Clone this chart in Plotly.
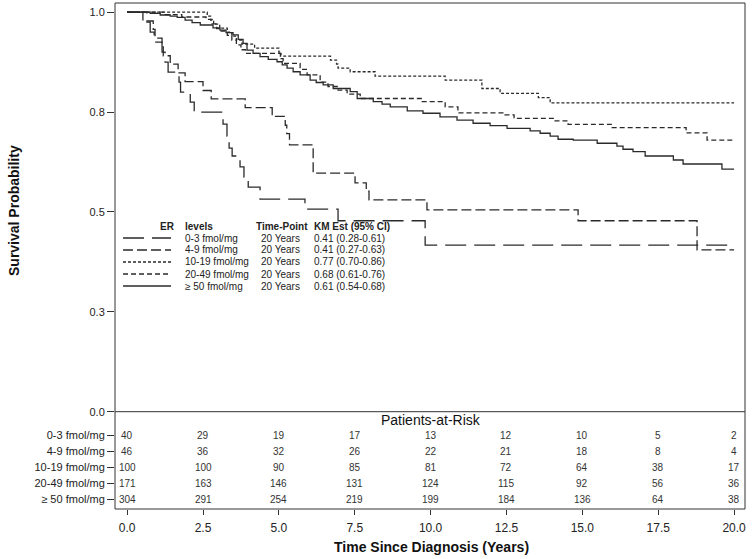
import plotly.graph_objects as go

# ---------------- data ----------------
groups = ["0-3 fmol/mg", "4-9 fmol/mg", "10-19 fmol/mg", "20-49 fmol/mg", "≥ 50 fmol/mg"]

t_0_3 = [0, 0.65, 0.76, 0.89, 1.15, 1.25, 1.35, 1.71, 1.76, 2.08, 2.21, 3.16, 3.29, 3.36, 3.46, 3.72,
         3.85, 3.99, 4.38, 5.86, 6.95, 9.82, 20.0]
s_0_3 = [1.0, 0.975, 0.95, 0.925, 0.90, 0.875, 0.85, 0.825, 0.80, 0.775, 0.75, 0.72, 0.69, 0.66, 0.64,
         0.613, 0.587, 0.562, 0.532, 0.507, 0.478, 0.417, 0.417]

t_4_9 = [0, 0.52, 0.86, 0.92, 1.15, 1.19, 1.42, 1.68, 1.91, 2.50, 2.77, 3.89, 4.78, 5.21, 5.26, 5.35,
         6.13, 7.51, 7.88, 7.97, 9.88, 14.86, 18.78, 20.0]
s_4_9 = [1.0, 0.978, 0.957, 0.935, 0.913, 0.891, 0.870, 0.848, 0.826, 0.804, 0.783, 0.761, 0.739, 0.717,
         0.696, 0.668, 0.597, 0.573, 0.552, 0.530, 0.505, 0.478, 0.405, 0.405]

t_10_19 = [0, 2.64, 2.75, 2.85, 3.05, 3.30, 3.45, 3.60, 3.78, 4.20, 5.00, 5.05, 6.70, 6.90, 6.95, 7.35,
           8.17, 10.48, 11.69, 12.29, 13.55, 13.94, 20.0]
s_10_19 = [1.0, 0.99, 0.98, 0.97, 0.96, 0.95, 0.94, 0.93, 0.92, 0.91, 0.90, 0.89, 0.88, 0.87, 0.86,
           0.851, 0.840, 0.830, 0.809, 0.797, 0.786, 0.773, 0.773]

t_20_49 = [0, 1.2, 1.8, 2.6, 2.8, 2.95, 3.1, 3.3, 3.45, 3.6, 3.75, 3.9, 5.07, 5.14, 5.70, 5.93, 6.36,
           6.62, 6.95, 7.25, 7.68, 9.69, 10.48, 10.9, 12.45, 12.75, 14.07, 14.53, 15.98, 18.42, 19.11, 20.0]
s_20_49 = [1.0, 0.994, 0.988, 0.982, 0.971, 0.959, 0.953, 0.942, 0.930, 0.918, 0.906, 0.897, 0.884,
           0.872, 0.857, 0.843, 0.825, 0.814, 0.805, 0.795, 0.784, 0.776, 0.763, 0.748, 0.743, 0.734,
           0.728, 0.719, 0.711, 0.698, 0.680, 0.680]

t_50 = [0, 0.76, 1.09, 1.42, 1.65, 1.91, 2.14, 2.41, 2.83, 3.06, 3.26, 3.49, 3.66, 3.82, 3.95, 4.15,
        4.38, 4.65, 4.94, 5.11, 5.27, 5.47, 5.70, 6.03, 6.23, 6.46, 6.79, 7.35, 7.58, 8.11, 8.40, 8.67,
        9.23, 9.75, 10.31, 10.87, 11.40, 11.96, 12.52, 13.28, 13.61, 13.94, 14.20, 14.70, 15.49, 16.14,
        16.34, 16.67, 17.07, 18.00, 18.32, 19.60, 20.0]
s_50 = [1.0, 0.997, 0.993, 0.990, 0.987, 0.980, 0.974, 0.968, 0.961, 0.955, 0.949, 0.943, 0.932, 0.922,
        0.905, 0.897, 0.889, 0.882, 0.876, 0.868, 0.860, 0.851, 0.843, 0.830, 0.824, 0.818, 0.809, 0.801,
        0.784, 0.776, 0.770, 0.763, 0.753, 0.747, 0.738, 0.730, 0.722, 0.716, 0.709, 0.703, 0.697, 0.690,
        0.682, 0.680, 0.672, 0.665, 0.657, 0.651, 0.640, 0.630, 0.620, 0.607, 0.607]

risk_times = [0, 2.5, 5.0, 7.5, 10.0, 12.5, 15.0, 17.5, 20.0]
risk_0_3 = [40, 29, 19, 17, 13, 12, 10, 5, 2]
risk_4_9 = [46, 36, 32, 26, 22, 21, 18, 8, 4]
risk_10_19 = [100, 100, 90, 85, 81, 72, 64, 38, 17]
risk_20_49 = [171, 163, 146, 131, 124, 115, 92, 56, 36]
risk_50 = [304, 291, 254, 219, 199, 184, 136, 64, 38]

time_point = "20 Years"
km_est = ["0.41 (0.28-0.61)", "0.41 (0.27-0.63)", "0.77 (0.70-0.86)", "0.68 (0.61-0.76)", "0.61 (0.54-0.68)"]

x_tickvals = [0, 2.5, 5.0, 7.5, 10.0, 12.5, 15.0, 17.5, 20.0]
x_ticktext = ["0.0", "2.5", "5.0", "7.5", "10.0", "12.5", "15.0", "17.5", "20.0"]
y_tickvals = [0, 0.25, 0.5, 0.75, 1.0]
y_ticktext = ["0.0", "0.3", "0.5", "0.8", "1.0"]

# ---------------- styling / layout geometry ----------------
W, H = 752, 559
ML, MR, MT, MB = 115, 7, 3, 50
PW, PH = W - ML - MR, H - MT - MB
FONT = "Liberation Sans, Arial, sans-serif"
LINE_COL = "#2a2a2a"
dashes = ["21px,8px", "10px,4px", "3px,2px", "5px,3px", "solid"]


def px2x(px):
    return (px - ML) / PW


def py2y(py):
    return (H - MB - py) / PH


split = py2y(411.7)

km_t = [t_0_3, t_4_9, t_10_19, t_20_49, t_50]
km_s = [s_0_3, s_4_9, s_10_19, s_20_49, s_50]
risks = [risk_0_3, risk_4_9, risk_10_19, risk_20_49, risk_50]

fig = go.Figure()
for g, tt, ss, d in zip(groups, km_t, km_s, dashes):
    fig.add_trace(go.Scatter(x=tt, y=ss, mode="lines", line_shape="hv", name=g,
                             line=dict(color=LINE_COL, width=1.3, dash=d),
                             xaxis="x", yaxis="y", showlegend=False, hoverinfo="skip"))

annotations = []
# risk table numbers
for i, r in enumerate(risks):
    for t, n in zip(risk_times, r):
        annotations.append(dict(x=t, y=i + 1, xref="x", yref="y2", text=str(n), showarrow=False,
                                font=dict(family=FONT, size=10, color="#333"), xanchor="center",
                                yanchor="middle"))
annotations.append(dict(x=10.0, y=0.0625, xref="x", yref="y2", text="Patients-at-Risk", showarrow=False,
                        font=dict(family=FONT, size=14, color="#111"), xanchor="center", yanchor="middle"))

# titles
annotations.append(dict(x=px2x(431), y=py2y(547), xref="paper", yref="paper",
                        text="<b>Time Since Diagnosis (Years)</b>", showarrow=False,
                        font=dict(family=FONT, size=14, color="#111"), xanchor="center", yanchor="middle"))
annotations.append(dict(x=px2x(14), y=py2y(210), xref="paper", yref="paper",
                        text="<b>Survival Probability</b>", showarrow=False, textangle=-90,
                        font=dict(family=FONT, size=14, color="#111"), xanchor="center", yanchor="middle"))

# inset legend table
hdr_y = 226
row_y = [238, 250, 262, 274, 286]
lf = dict(family=FONT, size=10, color="#222")
annotations.append(dict(x=px2x(177), y=py2y(hdr_y), xref="paper", yref="paper", text="<b>ER</b>",
                        showarrow=False, font=lf, xanchor="right", yanchor="middle"))
annotations.append(dict(x=px2x(183), y=py2y(hdr_y), xref="paper", yref="paper", text="<b>levels</b>",
                        showarrow=False, font=lf, xanchor="left", yanchor="middle"))
annotations.append(dict(x=px2x(254), y=py2y(hdr_y), xref="paper", yref="paper", text="<b>Time-Point</b>",
                        showarrow=False, font=lf, xanchor="left", yanchor="middle"))
annotations.append(dict(x=px2x(312), y=py2y(hdr_y), xref="paper", yref="paper", text="<b>KM Est (95% CI)</b>",
                        showarrow=False, font=lf, xanchor="left", yanchor="middle"))
shapes = []
for g, est, ry, d in zip(groups, km_est, row_y, dashes):
    annotations.append(dict(x=px2x(183), y=py2y(ry), xref="paper", yref="paper", text=g,
                            showarrow=False, font=lf, xanchor="left", yanchor="middle"))
    annotations.append(dict(x=px2x(259), y=py2y(ry), xref="paper", yref="paper", text=time_point,
                            showarrow=False, font=lf, xanchor="left", yanchor="middle"))
    annotations.append(dict(x=px2x(312), y=py2y(ry), xref="paper", yref="paper", text=est,
                            showarrow=False, font=lf, xanchor="left", yanchor="middle"))
    shapes.append(dict(type="line", xref="paper", yref="paper", x0=px2x(123), x1=px2x(171),
                       y0=py2y(ry), y1=py2y(ry), line=dict(color=LINE_COL, width=1.3, dash=d)))

# frame and separator
shapes.append(dict(type="rect", xref="paper", yref="paper", x0=0, x1=1, y0=0, y1=1,
                   line=dict(color="#333", width=1)))
shapes.append(dict(type="line", xref="paper", yref="paper", x0=0, x1=1, y0=split, y1=split,
                   line=dict(color="#333", width=1)))

fig.update_layout(
    width=W, height=H,
    margin=dict(l=ML, r=MR, t=MT, b=MB),
    paper_bgcolor="white", plot_bgcolor="white",
    font=dict(family=FONT, color="#222"),
    showlegend=False,
    xaxis=dict(domain=[0, 1], range=[-0.4, 20.36], anchor="y2", tickvals=x_tickvals, ticktext=x_ticktext,
               ticks="outside", ticklen=5, tickcolor="#333", showgrid=False, zeroline=False,
               showline=False, tickfont=dict(family=FONT, size=12, color="#222"), ticklabelstandoff=3),
    yaxis=dict(domain=[split, 1], range=[0, (411.7 - 3) / 399.5], anchor="x", tickvals=y_tickvals,
               ticktext=y_ticktext, ticks="outside", ticklen=7, tickcolor="#333", showgrid=False,
               zeroline=False, showline=False, tickfont=dict(family=FONT, size=11, color="#222")),
    yaxis2=dict(domain=[0, split], range=[5.625, -0.456], anchor="x", tickvals=[1, 2, 3, 4, 5],
                ticktext=groups, ticks="outside", ticklen=7, tickcolor="#333", showgrid=False,
                zeroline=False, showline=False, tickfont=dict(family=FONT, size=11, color="#222")),
    annotations=annotations,
    shapes=shapes,
)

fig.write_html("out.html", config={"displayModeBar": False},
               post_script="document.body.style.margin='0';document.body.style.padding='0';"
                           "document.documentElement.style.overflow='hidden';")
